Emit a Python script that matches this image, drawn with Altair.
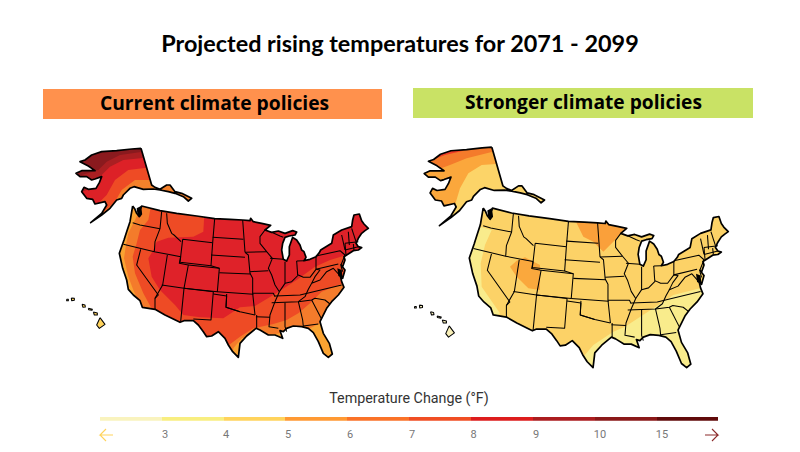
import altair as alt
import pandas as pd

TITLE = "Projected rising temperatures for 2071 - 2099"
LEFT_HEAD = "Current climate policies"
RIGHT_HEAD = "Stronger climate policies"
LEGEND_TITLE = "Temperature Change (°F)"
LEG_EDGES = [100, 162, 224, 285, 347, 409, 471, 533, 595, 657, 718]
LEG_COLORS = ["#F9F3BE", "#F8EE80", "#FFD35C", "#FF9933", "#FA7228", "#F04E23", "#DD1C1D", "#AB1D1F", "#8A1818", "#600A0A"]
LEG_LABELS = ["3", "4", "5", "6", "7", "8", "9", "10", "15"]
LEG_LABEL_X = [165, 226, 288, 350, 412, 473.5, 536, 600, 662]

# traced map geometry, in crop units: A = Alaska, W = west, E = east, H = Hawaii
ALASKA = [(243,55),(275,165),(285,172),(300,178),(320,165),(330,165),(345,185),(365,190),(395,205),(385,213),(370,200),(345,190),(325,185),(300,180),(280,177),(250,178),(222,170),(210,175),(190,195),(185,205),(170,210),(150,235),(125,255),(92,278),(125,250),(140,225),(135,215),(105,222),(98,208),(80,205),(65,185),(72,172),(85,178),(108,175),(118,158),(125,140),(105,147),(95,150),(80,140),(60,140),(48,130),(65,122),(105,122),(85,108),(60,95),(75,90),(95,75),(125,65),(170,62),(215,57)]
CONUS_NW = [(68,18),(75,28),(80,40),(88,50),(94,42),(92,28),(95,18),(150,32),(200,40),(260,48),(314,56),(360,58)]
CONUS_E = [(38,60),(60,62),(62,55),(70,65),(95,70),(122,76),(105,90),(125,97),(145,93),(165,100),(188,92),(200,96),(195,105),(178,108),(165,112),(158,130),(155,150),(160,178),(170,183),(178,165),(178,140),(188,112),(200,120),(210,135),(215,150),(222,155),(228,172),(222,182),(240,178),(258,170),(268,158),(272,150),(305,130),(310,105),(335,90),(365,80),(368,60),(372,45),(388,42),(395,62),(402,72),(415,85),(405,92),(395,100),(385,115),(378,130),(385,140),(395,143),(385,150),(370,152),(350,165),(342,170),(345,180),(338,200),(333,195),(345,210),(338,235),(328,215),(335,245),(342,262),(325,285),(305,305),(290,325),(270,365),(280,400),(298,430),(307,462),(295,472),(280,460),(265,425),(250,398),(235,385),(215,380),(190,378),(170,385),(160,395),(150,392),(158,415),(135,405),(115,405),(90,390),(78,385),(50,408),(30,430)]
CONUS_SW = [(385,472),(368,455),(355,435),(345,415),(325,395),(305,408),(290,410),(280,395),(265,375),(250,362),(222,362),(210,367),(165,345),(135,328),(97,322),(90,302),(70,285),(55,268),(50,240),(38,205),(28,160),(42,120),(50,95),(60,65)]
HAWAII = [[(120,98),(135,118),(118,130),(110,120)],[(34,39),(43,40),(43,46),(35,47)],[(66,58),(75,60),(76,66),(69,67)],[(100,81),(112,84),(112,90),(103,90)],[(85,70),(97,73),(96,76),(86,74)],[(20,43),(25,43),(25,47),(20,47)]]
PUGET = [(80,25),(93,18),(94,42),(87,50),(82,40)]
CHESAPEAKE = [(322,205),(335,210),(338,235),(325,228)]

BORDERS_W = [
 [(68,68),(90,75),(150,86)],[(155,35),(150,86),(135,125),(133,155)],[(40,133),(133,155),(212,170)],
 [(170,40),(172,70),(185,100),(192,105),(213,125)],[(218,118),(308,128),(303,197),(210,187),(218,118)],
 [(212,170),(208,190),(235,195),(222,265),(155,255)],[(172,165),(158,255),(135,295),(135,328)],
 [(235,195),(328,205),(322,275),(222,265),(212,365)],[(222,265),(310,275),(303,360),(250,357)],
 [(310,282),(350,288),(348,322),(390,335)],[(92,148),(80,195),(145,285),(135,295)],
 [(314,56),(308,128)],[(308,112),(400,118)],[(303,165),(405,172)],[(303,197),(328,205)],[(328,218),(422,222)],[(322,275),(430,283)]]
BORDERS_E = [
 [(38,60),(42,115),(45,157)],[(45,157),(55,165),(60,220),(68,235),(68,280),(75,345)],[(45,157),(110,155)],[(60,215),(115,212)],
 [(105,90),(90,110),(90,130),(110,155),(127,175),(115,205),(125,225),(135,255),(148,275),(135,305),(120,345),(117,380),(145,385)],
 [(125,97),(150,108),(160,112)],[(120,175),(160,178)],[(165,185),(165,250),(148,275)],[(200,183),(203,225)],[(200,183),(222,182)],
 [(165,250),(185,245),(205,225),(220,232),(240,232),(258,208),(258,170)],[(258,168),(330,152),(345,165),(333,195)],
 [(258,208),(325,192)],[(258,208),(270,210),(255,230),(245,250),(270,240),(290,215),(310,205),(328,225)],
 [(335,255),(210,285),(135,288)],[(245,250),(235,268),(225,290),(205,305)],[(68,280),(130,280),(135,290)],
 [(125,308),(205,305),(245,300),(255,295),(285,300),(300,312)],[(78,350),(120,352)],[(165,308),(165,380),(170,395)],
 [(205,305),(218,360),(220,380)],[(220,378),(265,372)],[(245,300),(275,358)],[(-10,282),(-12,322),(30,335),(75,345)],[(80,345),(80,385)],
 [(335,105),(345,150)],[(355,95),(358,135)],[(365,85),(378,125)],[(345,130),(385,125)],[(345,150),(385,140)],[(370,132),(372,150)],[(345,130),(348,165)],[(333,198),(338,215)]]

# temperature bands, left map (west crop units)
L_W5 = "#FAA332"; L_W6 = "#F47B2B"; L_W7 = "#EE4B25"; L_W8 = "#DF2229"
L_BAND6 = [(100,5),(75,60),(55,100),(48,135),(42,175),(55,230),(70,270),(100,340),(300,490),(365,490),(370,445),(395,415),(510,400),(560,395),(600,385),(640,365),(665,330),(705,290),(800,285),(800,5)]
L_BAND7 = [(125,5),(115,60),(90,90),(80,130),(68,170),(75,220),(100,280),(130,335),(330,490),(350,440),(390,410),(430,385),(490,372),(530,360),(565,340),(600,310),(635,275),(700,250),(800,250),(800,5)]
L_BAND8 = [(285,5),(280,95),(250,110),(175,113),(140,125),(130,150),(115,175),(125,230),(150,270),(195,315),(220,345),(270,352),(340,355),(390,322),(435,318),(490,285),(560,240),(615,200),(660,180),(710,165),(800,160),(800,5)]
A_BANDS = [("#EE4B25",[(285,150),(225,150),(185,180),(165,215),(120,255),(80,290),(30,290),(30,30),(285,30)]),
           ("#DD2127",[(285,110),(205,120),(165,150),(140,195),(100,235),(30,250),(30,30),(285,30)]),
           ("#AB1F22",[(285,80),(190,90),(150,110),(125,135),(110,165),(60,190),(30,190),(30,30),(285,30)]),
           ("#8A1A1E",[(285,60),(180,75),(140,95),(115,120),(55,138),(30,138),(30,30),(285,30)])]
# right map: zoom crops R (west) and S (east)
R_WEST_LIGHT = [(210,290),(245,300),(225,345),(212,400),(215,470),(270,550),(240,570),(160,500),(160,300)]
R_UTAH = [(300,410),(320,392),(345,382),(390,405),(390,480),(355,475),(320,440)]
S_MN = [(-10,50),(-10,70),(10,110),(40,125),(70,155),(135,90),(140,50)]
S_SE = [(10,470),(40,435),(100,395),(135,380),(220,325),(280,285),(360,265),(390,300),(350,520),(0,520)]
RA_BANDS = [("#FBA73C",[(290,100),(215,105),(175,130),(150,175),(135,225),(85,240),(20,240),(20,30),(290,30)]),
            ("#F47B2B",[(290,55),(230,70),(170,85),(120,105),(85,118),(45,120),(20,100),(20,30),(290,30)]),
            ("#EE3B25",[(130,50),(160,62),(105,75),(80,85),(60,95)])]

def crop(pts, ox, oy):
    return [(ox + x / 3, oy + y / 3) for x, y in pts]

def left_w(pts): return crop(pts, 110, 200)
def left_e(pts): return crop(pts, 230, 200)
def left_a(pts): return crop(pts, 60, 130)
def to_right(pts): return [(470 + (x - 120) * 1.04, 207 + (y - 205) * 1.055) for x, y in pts]

A_L = left_a(ALASKA)
C_L = left_w(CONUS_NW) + left_e(CONUS_E) + left_w(CONUS_SW)
H_L = [crop(p, 60, 285) for p in HAWAII]
BORD_L = [left_w(b) for b in BORDERS_W] + [left_e(b) for b in BORDERS_E]
BLACK_L = [left_w(PUGET), left_e(CHESAPEAKE)]

def area(p):
    return sum(p[i][0] * p[(i + 1) % len(p)][1] - p[(i + 1) % len(p)][0] * p[i][1] for i in range(len(p)))

def mask(x0, x1, holes, y0=125, y1=382):
    rect = [(x0, y0), (x1, y0), (x1, y1), (x0, y1)]
    s = 1 if area(rect) > 0 else -1
    path = [rect[0]]
    for h in holes:
        hh = list(h)
        if area(hh) * s > 0:
            hh.reverse()
        path += hh + [hh[0], rect[0]]
    return path + rect[1:]

fill_rows = []; fid = [0]
def F(pts, color):
    fid[0] += 1
    for i, (x, y) in enumerate(pts):
        fill_rows.append(dict(x=x, y=y, i=i, id=fid[0], c=color))

stroke_thick = []; stroke_thin = []; sid = [0]
def S(rows, pts, close=False):
    sid[0] += 1
    p = list(pts) + ([pts[0]] if close else [])
    for i, (x, y) in enumerate(p):
        rows.append(dict(x=x, y=y, i=i, id=sid[0]))

# left map
F(A_L, "#F4812B")
for c, p in A_BANDS: F(left_a(p), c)
F(C_L, L_W5)
F(left_w(L_BAND6), L_W6); F(left_w(L_BAND7), L_W7); F(left_w(L_BAND8), L_W8)
for h in H_L: F(h, "#FFD35C")
F(mask(40, 400, [C_L, A_L] + H_L), "#FFFFFF")
# right map
A_R = to_right(A_L); C_R = to_right(C_L); H_R = [to_right(h) for h in H_L]
F(A_R, "#FCD468")
for c, p in RA_BANDS: F(crop(p, 410, 130), c)
F(C_R, "#FCD267")
F(crop(R_WEST_LIGHT, 410, 130), "#F9EC8C"); F(crop(S_SE, 580, 200), "#F9EC8C")
F(crop(R_UTAH, 410, 130), "#FAA83D"); F(crop(S_MN, 580, 200), "#FAA03A")
for h in H_R: F(h, "#F9F0B8")
F(mask(400, 775, [C_R, A_R] + H_R), "#FFFFFF")
for p in BLACK_L + [to_right(b) for b in BLACK_L]: F(p, "#000000")

for shape in [A_L, A_R, C_L, C_R]:
    S(stroke_thick, shape, True)
for h in H_L + H_R:
    S(stroke_thin, h, True)
for b in BORD_L + [to_right(b) for b in BORD_L]:
    S(stroke_thin, b)

XS = alt.Scale(domain=[8, 792], nice=False, zero=False)
YS = alt.Scale(domain=[444, 8], nice=False, zero=False)
X = alt.X("x:Q", scale=XS, axis=None)
Y = alt.Y("y:Q", scale=YS, axis=None)

layers = []
layers.append(alt.Chart(pd.DataFrame(fill_rows)).mark_line(filled=True, strokeWidth=0).encode(
    x=X, y=Y, order="i:Q", detail="id:N", color=alt.Color("c:N", scale=None, legend=None)))
layers.append(alt.Chart(pd.DataFrame(stroke_thin)).mark_line(color="#000000", strokeWidth=1.05, strokeJoin="round").encode(
    x=X, y=Y, order="i:Q", detail="id:N"))
layers.append(alt.Chart(pd.DataFrame(stroke_thick)).mark_line(color="#000000", strokeWidth=1.7, strokeJoin="round").encode(
    x=X, y=Y, order="i:Q", detail="id:N"))

heads = pd.DataFrame({"x": [43, 413], "x2": [382, 753], "y": [89, 88], "y2": [119, 118], "c": ["#FF914D", "#C9E265"]})
layers.append(alt.Chart(heads).mark_rect().encode(x=X, x2="x2:Q", y=Y, y2="y2:Q", color=alt.Color("c:N", scale=None, legend=None)))
leg = pd.DataFrame({"x": LEG_EDGES[:-1], "x2": LEG_EDGES[1:], "y": [417] * 10, "y2": [420.7] * 10, "c": LEG_COLORS})
layers.append(alt.Chart(leg).mark_rect().encode(x=X, x2="x2:Q", y=Y, y2="y2:Q", color=alt.Color("c:N", scale=None, legend=None)))

def text(t, x, y, font, size, weight, color):
    return alt.Chart(pd.DataFrame({"x": [x], "y": [y], "t": [t]})).mark_text(
        font=font, fontSize=size, fontWeight=weight, color=color, align="center", baseline="middle").encode(x=X, y=Y, text="t:N")

layers.append(text(TITLE, 400, 45, "Lato", 23.4, "bold", "#000000"))
layers.append(text(LEFT_HEAD, 214.5, 104, "Open Sans", 19.25, "bold", "#000000"))
layers.append(text(RIGHT_HEAD, 583.5, 103, "Open Sans", 19.2, "bold", "#000000"))
layers.append(text(LEGEND_TITLE, 409, 399, "Roboto", 14.3, "normal", "#333333"))
layers.append(alt.Chart(pd.DataFrame({"x": LEG_LABEL_X, "y": [435] * 9, "t": LEG_LABELS})).mark_text(
    font="Roboto", fontSize=11, color="#777777", align="center", baseline="middle").encode(x=X, y=Y, text="t:N"))

ARROW_L = [(113, 435), (100, 435), (106, 429), (100, 435), (106, 441)]
ARROW_R = [(705, 435), (718, 435), (712, 429), (718, 435), (712, 441)]
for pts, c in [(ARROW_L, "#FFD35C"), (ARROW_R, "#8B2A2A")]:
    layers.append(alt.Chart(pd.DataFrame({"x": [p[0] for p in pts], "y": [p[1] for p in pts], "i": range(len(pts))})).mark_line(
        color=c, strokeWidth=1.1).encode(x=X, y=Y, order="i:Q"))

chart = alt.layer(*layers).properties(
    width=784, height=436, padding=0, background="#FFFFFF", autosize=alt.AutoSizeParams(type="none")
).configure_view(stroke=None)
chart.save("out.html", embed_options={"renderer": "svg", "actions": False})
